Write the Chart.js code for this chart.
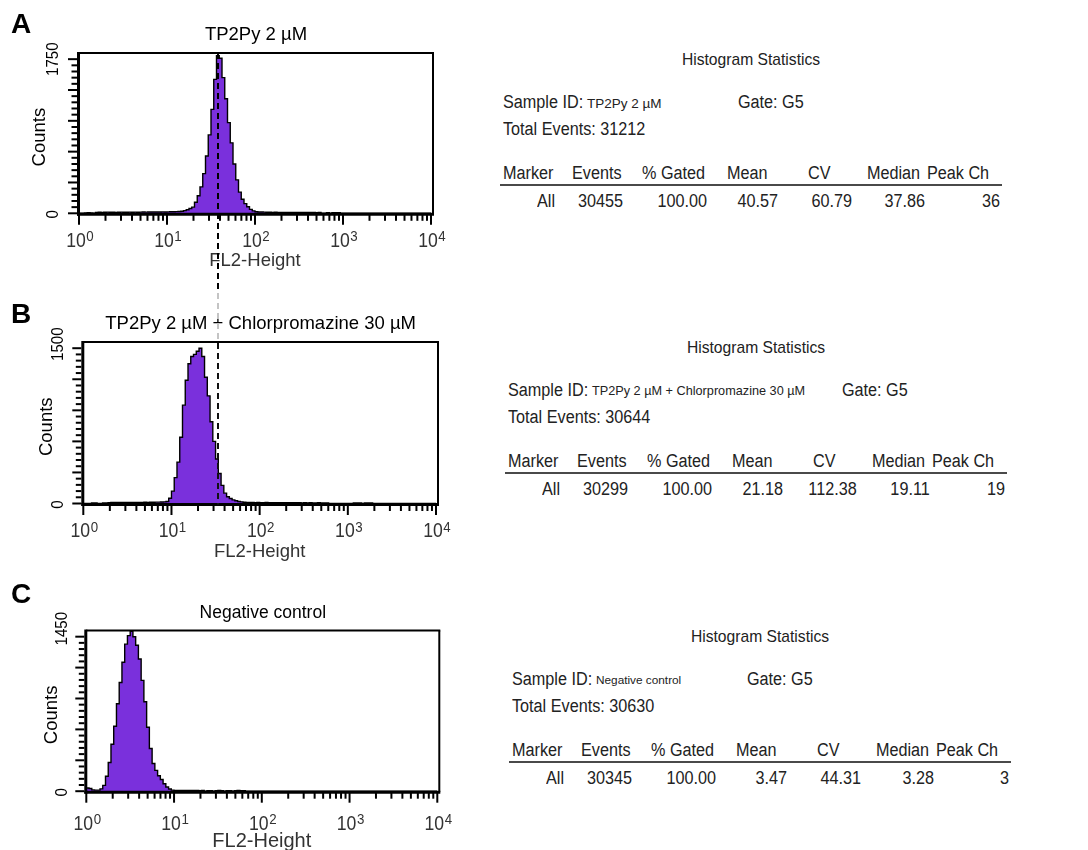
<!DOCTYPE html>
<html>
<head>
<meta charset="utf-8">
<script src="https://cdn.jsdelivr.net/npm/chart.js@4.4.1/dist/chart.umd.min.js"></script>
<style>
html,body{margin:0;padding:0;background:#fff;}
body{width:1088px;height:850px;position:relative;overflow:hidden;font-family:"Liberation Sans",Arial,sans-serif;}
canvas.panel{position:absolute;left:0;}
#overlay{position:absolute;left:0;top:0;pointer-events:none;z-index:5;}
.t{position:absolute;white-space:nowrap;color:#222;}
.rule{position:absolute;height:2px;background:#4a4a4a;}
</style>
</head>
<body>
<canvas id="cA" class="panel" width="480" height="285" style="top:0px;width:480px;height:285px"></canvas>
<canvas id="cB" class="panel" width="480" height="290" style="top:285px;width:480px;height:290px"></canvas>
<canvas id="cC" class="panel" width="480" height="275" style="top:575px;width:480px;height:275px"></canvas>
<canvas id="overlay" width="1088" height="850" style="width:1088px;height:850px"></canvas>
<script>
// ---------------- DATA ----------------
const panelLetters = ["A", "B", "C"];
const panelTitles = ["TP2Py 2 µM", "TP2Py 2 µM + Chlorpromazine 30 µM", "Negative control"];
const yAxisMax = [1820, 1560, 1508];
const yLabelTicks = [1750, 1500, 1450];
const xDecades = [1, 10, 100, 1000, 10000];
const xDecadeExponents = ["0", "1", "2", "3", "4"];
const xAxisTitle = "FL2-Height";
const yAxisTitle = "Counts";
const BINS_PER_DECADE = 32;   // histogram channels per log decade (128 channels over 4 decades)

const countsA = [
  0, 0, 4, 8, 3, 0, 10, 12, 11, 12,
  13, 12, 12, 11, 12, 13, 12, 12, 13, 12,
  13, 12, 13, 14, 13, 14, 14, 15, 14, 15,
  16, 15, 16, 17, 18, 19, 21, 24, 30, 40,
  55, 70, 125, 200, 300, 450, 650, 890, 1180, 1520,
  1790, 1760, 1540, 1300, 1030, 800, 560, 380, 240, 160,
  110, 75, 45, 28, 18, 15, 14, 13, 12, 12,
  11, 12, 11, 11, 10, 11, 10, 10, 11, 10,
  9, 10, 9, 9, 10, 9, 8, 9, 0, 0,
  6, 0, 6, 7, 6, 0, 0, 0, 0, 0,
  0, 0, 0, 0, 0, 0, 0, 0, 0, 0,
  0, 0, 0, 0, 0, 0, 0, 0, 0, 0,
  0, 0, 0, 0, 0, 0, 0, 0
];
const countsB = [
  0, 0, 0, 6, 6, 0, 0, 6, 6, 8,
  9, 10, 10, 9, 10, 11, 10, 10, 11, 10,
  11, 11, 12, 11, 12, 12, 13, 13, 14, 16,
  20, 50, 120, 250, 400, 640, 950, 1190, 1350, 1420,
  1440, 1470, 1500, 1420, 1220, 1040, 790, 600, 430, 290,
  175, 100, 65, 48, 35, 26, 20, 16, 12, 10,
  9, 9, 8, 9, 8, 8, 9, 8, 8, 8,
  7, 8, 7, 8, 7, 7, 8, 7, 7, 6,
  7, 6, 7, 6, 6, 7, 6, 5, 5, 0,
  0, 0, 0, 0, 0, 0, 0, 0, 5, 5,
  5, 0, 5, 5, 5, 0, 0, 0, 0, 0,
  0, 0, 0, 0, 0, 0, 0, 0, 0, 0,
  0, 0, 0, 0, 0, 0, 0, 0
];
const countsC = [
  30, 25, 12, 10, 10, 22, 55, 140, 270, 440,
  610, 820, 1020, 1210, 1380, 1460, 1500, 1450, 1370, 1240,
  1040, 840, 600, 400, 260, 195, 145, 110, 70, 40,
  20, 10, 8, 8, 8, 8, 8, 8, 8, 8,
  8, 5, 6, 0, 5, 5, 0, 5, 6, 5,
  0, 5, 5, 0, 5, 6, 5, 5, 0, 0,
  0, 0, 0, 0, 0, 0, 0, 0, 0, 0,
  0, 0, 0, 0, 0, 0, 0, 0, 0, 0,
  0, 0, 0, 0, 0, 0, 0, 0, 0, 0,
  0, 0, 0, 0, 0, 0, 0, 0, 0, 0,
  0, 0, 0, 0, 0, 0, 0, 0, 0, 0,
  0, 0, 0, 0, 0, 0, 0, 0, 0, 0,
  0, 0, 0, 0, 0, 0, 0, 0
];

// Histogram statistics tables
const tableTitle = "Histogram Statistics";
const sampleIds = ["TP2Py 2 µM", "TP2Py 2 µM + Chlorpromazine 30 µM", "Negative control"];
const gates = ["G5", "G5", "G5"];
const totalEvents = [31212, 30644, 30630];
const columnHeaders = ["Marker", "Events", "% Gated", "Mean", "CV", "Median", "Peak Ch"];
const markerNames = ["All", "All", "All"];
const gatedEvents = [30455, 30299, 30345];
const pctGated = [100.00, 100.00, 100.00];
const means = [40.57, 21.18, 3.47];
const cvs = [60.79, 112.38, 44.31];
const medians = [37.86, 19.11, 3.28];
const peakChannels = [36, 19, 3];

// ---------------- LAYOUT / STYLE ----------------
const FONT = '"Liberation Sans", Arial, Helvetica, sans-serif';
const fillColor = "#7a30dc";
const panelLayout = [
  { top: 0,   pad: {left: 79,   top: 53,   right: 49,   bottom: 71.7}, letterY: 33, yLabOff: 21, topLabShift: 0,  countsOff: 34, titleSize: 18.5, xLabOff: 33.5, xTitleOff: 52.7, xTitleSize: 18.5,
    table: {x: 503, y: 65,  gateDx: 235, nameSize: 13.5} },
  { top: 285, pad: {left: 83.3, top: 57,   right: 44,   bottom: 71.5}, letterY: 38, yLabOff: 20, topLabShift: -4, countsOff: 31, titleSize: 18.5, xLabOff: 33.5, xTitleOff: 53.5, xTitleSize: 18.5,
    table: {x: 508, y: 353, gateDx: 334, nameSize: 12.7} },
  { top: 575, pad: {left: 86.3, top: 55.5, right: 42.7, bottom: 58.8}, letterY: 28, yLabOff: 19, topLabShift: -8, countsOff: 29, titleSize: 17.5, xLabOff: 38.5, xTitleOff: 55.8, xTitleSize: 20,
    table: {x: 512, y: 642, gateDx: 235, nameSize: 11.8} }
];

Chart.defaults.font.family = FONT;

function histogramPoints(counts) {
  const pts = counts.map((c, k) => ({ x: Math.pow(10, k / BINS_PER_DECADE), y: c }));
  pts.push({ x: Math.pow(10, counts.length / BINS_PER_DECADE), y: 0 });
  return pts;
}

function scaledText(ctx, str, x, y, size, sx) {
  ctx.save();
  ctx.font = `${size}px ${FONT}`;
  ctx.translate(x, y);
  ctx.scale(sx, 1);
  ctx.fillText(str, 0, 0);
  ctx.restore();
}

const flowAxes = {
  id: 'flowAxes',
  afterDatasetsDraw(chart, args, o) {
    const ctx = chart.ctx, a = chart.chartArea, xs = chart.scales.x, ys = chart.scales.y;
    const line = (x1, y1, x2, y2) => { ctx.beginPath(); ctx.moveTo(x1, y1); ctx.lineTo(x2, y2); ctx.stroke(); };
    ctx.save();
    ctx.strokeStyle = '#000';
    ctx.lineCap = 'butt';
    const right = a.right + 2;
    // frame top/right
    ctx.lineWidth = 2;
    line(a.left, a.top, right + 1, a.top);
    line(right, a.top, right, a.bottom + 1);
    // left and bottom axes (thicker)
    ctx.lineWidth = 3;
    line(a.left - 0.5, a.top - 1, a.left - 0.5, a.bottom + 2.5);
    line(a.left - 2, a.bottom + 1, right + 1, a.bottom + 1);
    const axisY = a.bottom + 2.5;
    // x ticks (decades major, 2..9 minor)
    ctx.lineWidth = 2;
    xDecades.forEach((dv, i) => {
      const px = xs.getPixelForValue(dv);
      line(px, axisY - 1, px, axisY + 9);
      if (i < xDecades.length - 1) {
        for (let m = 2; m <= 9; m++) {
          const p = xs.getPixelForValue(m * dv);
          line(p, axisY - 1, p, axisY + 5);
        }
      }
    });
    // y ticks
    const step = o.yLabel / 25;
    for (let i = 0; i <= 25; i++) {
      const py = ys.getPixelForValue(i * step);
      const len = (i % 5 === 0) ? 9 : 5.5;
      line(a.left - 2, py, a.left - 2 - len, py);
    }
    // y labels (rotated)
    ctx.fillStyle = '#000';
    ctx.font = `16px ${FONT}`;
    ctx.textAlign = 'center';
    ctx.textBaseline = 'alphabetic';
    [[0, 1], [o.yLabel, o.topLabShift]].forEach(([v, sh]) => {
      const py = ys.getPixelForValue(v) + sh;
      ctx.save(); ctx.translate(a.left - o.yLabOff, py); ctx.rotate(-Math.PI / 2);
      ctx.scale(0.94, 1);
      ctx.fillText(String(v), 0, 0); ctx.restore();
    });
    // y axis title
    ctx.font = `18.5px ${FONT}`;
    ctx.save(); ctx.translate(a.left - o.countsOff, (a.top + a.bottom) / 2 + 4); ctx.rotate(-Math.PI / 2);
    ctx.fillText(yAxisTitle, 0, 0); ctx.restore();
    // title
    ctx.font = `${o.titleSize}px ${FONT}`;
    ctx.fillText(o.title, (a.left + a.right) / 2 + 1, a.top - 13);
    // x tick labels with superscripts
    ctx.fillStyle = '#333';
    ctx.textAlign = 'left';
    const BS = 20.5, BSX = 0.86, ES = 14, ESX = 0.95;
    xDecades.forEach((dv, i) => {
      const px = xs.getPixelForValue(dv);
      ctx.font = `${BS}px ${FONT}`;
      const w1 = ctx.measureText("10").width * BSX;
      ctx.font = `${ES}px ${FONT}`;
      const w2 = ctx.measureText(xDecadeExponents[i]).width * ESX;
      const start = px - (w1 + w2 + 0.5) / 2 + 1;
      const base = a.bottom + o.xLabOff;
      scaledText(ctx, "10", start, base, BS, BSX);
      scaledText(ctx, xDecadeExponents[i], start + w1 + 0.5, base - 5.5, ES, ESX);
    });
    // x axis title
    ctx.textAlign = 'center';
    ctx.font = `${o.xTitleSize}px ${FONT}`;
    ctx.fillText(xAxisTitle, (a.left + a.right) / 2, a.bottom + o.xTitleOff);
    // panel letter
    ctx.fillStyle = '#000';
    ctx.textAlign = 'left';
    ctx.font = `bold 28px ${FONT}`;
    ctx.fillText(o.letter, 11, o.letterY);
    ctx.restore();
  }
};

const countsList = [countsA, countsB, countsC];
const canvasIds = ["cA", "cB", "cC"];
const charts = countsList.map((counts, i) => {
  const L = panelLayout[i];
  return new Chart(document.getElementById(canvasIds[i]), {
    type: 'line',
    data: {
      datasets: [{
        data: histogramPoints(counts),
        stepped: true,
        fill: 'origin',
        backgroundColor: fillColor,
        borderColor: '#000',
        borderWidth: 1.4,
        pointRadius: 0,
        tension: 0
      }]
    },
    options: {
      responsive: false,
      animation: false,
      devicePixelRatio: 1,
      events: [],
      layout: { padding: L.pad },
      plugins: {
        legend: { display: false },
        tooltip: { enabled: false },
        flowAxes: {
          title: panelTitles[i], letter: panelLetters[i], letterY: L.letterY, yLabel: yLabelTicks[i],
          yLabOff: L.yLabOff, topLabShift: L.topLabShift, countsOff: L.countsOff, titleSize: L.titleSize,
          xLabOff: L.xLabOff, xTitleOff: L.xTitleOff, xTitleSize: L.xTitleSize
        }
      },
      scales: {
        x: { type: 'logarithmic', min: xDecades[0], max: xDecades[xDecades.length - 1], display: false },
        y: { type: 'linear', min: 0, max: yAxisMax[i], display: false }
      }
    },
    plugins: [flowAxes]
  });
});

// dashed marker line at the TP2Py median, running from panel A down through panel B
(function drawMarker() {
  const c = document.getElementById('overlay').getContext('2d');
  const x = Math.round(charts[0].scales.x.getPixelForValue(medians[0]));
  const yTop = panelLayout[0].top + charts[0].chartArea.top;
  const yGreyStart = panelLayout[1].top + 8;
  const yGreyEnd = panelLayout[1].top + charts[1].chartArea.top;
  const yBot = panelLayout[1].top + charts[1].chartArea.bottom + 1;
  c.lineWidth = 2;
  c.setLineDash([6, 4]);
  const seg = (y1, y2, col) => {
    c.strokeStyle = col;
    c.lineDashOffset = (y1 - yTop);
    c.beginPath(); c.moveTo(x, y1); c.lineTo(x, y2); c.stroke();
  };
  seg(yTop, yGreyStart, '#000');
  seg(yGreyStart, yGreyEnd, '#c4c4c4');
  seg(yGreyEnd, yBot, '#111');
})();

// ---------------- TABLES (HTML text) ----------------
function addText(str, x, baseline, size, align, sx) {
  const d = document.createElement('div');
  d.className = 't';
  d.textContent = str;
  d.style.fontSize = size + 'px';
  d.style.lineHeight = size + 'px';
  d.style.top = (baseline - 0.8465 * size) + 'px';
  if (sx !== undefined && sx !== 1) d.style.transform = `scaleX(${sx})`;
  if (align === 'right') {
    d.style.right = (1088 - x) + 'px';
    d.style.transformOrigin = 'right center';
  } else if (align === 'center') {
    d.style.left = (x - 200) + 'px'; d.style.width = '400px'; d.style.textAlign = 'center';
    d.style.transformOrigin = 'center center';
  } else {
    d.style.left = x + 'px';
    d.style.transformOrigin = 'left center';
  }
  document.body.appendChild(d);
  return d;
}
const headerLeft = [0, 69, 139, 224, 305, 364, 424];
const valueRight = [52, 120, 204, 275, 349, 422, 497];
const rowOffsets = { sample: 43, total: 70, header: 114, rule: 119, row: 142 };
const TS = 18, TSX = 0.9;
panelLayout.forEach((L, i) => {
  const T = L.table;
  addText(tableTitle, T.x + 248, T.y, 17, 'center', 0.92);
  addText("Sample ID: ", T.x, T.y + rowOffsets.sample, TS, 'left', TSX);
  addText(sampleIds[i], T.x + 84, T.y + rowOffsets.sample, L.table.nameSize, 'left', 1);
  addText("Gate: " + gates[i], T.x + T.gateDx, T.y + rowOffsets.sample, TS, 'left', TSX);
  addText("Total Events: " + totalEvents[i], T.x, T.y + rowOffsets.total, TS, 'left', TSX);
  columnHeaders.forEach((h, j) => addText(h, T.x + headerLeft[j], T.y + rowOffsets.header, TS, 'left', TSX));
  const r = document.createElement('div');
  r.className = 'rule';
  r.style.left = (T.x - 3) + 'px';
  r.style.width = '502px';
  r.style.top = (T.y + rowOffsets.rule) + 'px';
  document.body.appendChild(r);
  const vals = [markerNames[i], String(gatedEvents[i]), pctGated[i].toFixed(2), means[i].toFixed(2),
                cvs[i].toFixed(2), medians[i].toFixed(2), String(peakChannels[i])];
  vals.forEach((v, j) => addText(v, T.x + valueRight[j], T.y + rowOffsets.row, TS, 'right', TSX));
});
</script>
</body>
</html>
